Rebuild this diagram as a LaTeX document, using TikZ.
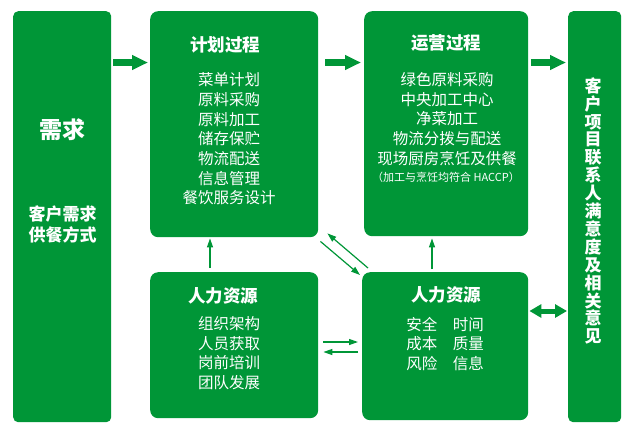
\documentclass[tikz,border=0pt]{standalone}
\usepackage{fontspec}
\setmainfont{Noto Sans CJK SC}
\usetikzlibrary{arrows.meta}
\definecolor{gr}{RGB}{0,150,55}
\begin{document}
\begin{tikzpicture}[x=1pt,y=-1pt,
  box/.style={fill=gr, draw=none, rounded corners=8pt, inner sep=0pt, anchor=north west},
  txt/.style={text=white, inner sep=0pt, align=center},
  ttl/.style={txt, font=\fontsize{17.5}{20}\selectfont\bfseries},
  itm/.style={txt, font=\fontsize{15.5}{19.7}\selectfont},
  bigarrow/.style={draw=gr, line width=7pt, -{Triangle[length=16pt,width=14pt]}},
  dblarrow/.style={draw=gr, line width=5pt, {Triangle[length=12pt,width=13pt]}-{Triangle[length=12pt,width=13pt]}},
  thinarrow/.style={draw=gr, line width=1.2pt, -{Triangle[length=9pt,width=6pt]}}
]
\useasboundingbox (0,0) rectangle (634,432);
% boxes
\node[box, rounded corners=5pt, minimum width=98pt, minimum height=411pt] (need) at (13,11) {};
\node[box, minimum width=168pt, minimum height=226pt] (plan) at (150,11) {};
\node[box, minimum width=164pt, minimum height=225pt] (ops) at (364,11) {};
\node[box, rounded corners=5pt, minimum width=53pt, minimum height=411pt] (cust) at (568,11) {};
\node[box, minimum width=168pt, minimum height=146pt] (hra) at (150,272) {};
\node[box, minimum width=166pt, minimum height=148pt] (hrb) at (362,272) {};
% texts
\node[txt, font=\fontsize{23}{26}\selectfont\bfseries] (needt) at (62,130) {需求};
\node[txt, font=\fontsize{17}{21}\selectfont\bfseries] (needi) at (62.5,224) {客户需求\\供餐方式};
\node[ttl] (plant) at (225,45) {计划过程};
\node[itm] (plani) at (229,139) {菜单计划\\原料采购\\原料加工\\储存保贮\\物流配送\\信息管理\\餐饮服务设计};
\node[ttl] (opst) at (446,43) {运营过程};
\node[itm] (opsi) at (447,119) {绿色原料采购\\中央加工中心\\净菜加工\\物流分拨与配送\\现场厨房烹饪及供餐};
\node[txt, font=\fontsize{11}{13}\selectfont] (opsn) at (446,177) {（加工与烹饪均符合 HACCP）};
\node[txt, font=\fontsize{17}{17.9}\selectfont\bfseries] (custt) at (593,211) {客\\户\\项\\目\\联\\系\\人\\满\\意\\度\\及\\相\\关\\意\\见};
\node[ttl] (hrat) at (223,296) {人力资源};
\node[itm] (hrai) at (229,353) {组织架构\\人员获取\\岗前培训\\团队发展};
\node[ttl] (hrbt) at (446,295) {人力资源};
\node[itm] (hrbi) at (445,344) {安全\quad 时间\\成本\quad 质量\\风险\quad 信息};
% connectors
\coordinate (rowa) at (0,62.5);
\coordinate (rowb) at (0,311);
\coordinate (rowc) at (0,342);
\coordinate (rowd) at (0,352);
\coordinate (cola) at (210,0);
\coordinate (colb) at (432,0);
\draw[bigarrow, shorten <=2pt, shorten >=2pt] (need.east |- rowa) -- (plan.west |- rowa);
\draw[bigarrow, shorten <=7pt, shorten >=3pt] (plan.east |- rowa) -- (ops.west |- rowa);
\draw[bigarrow, shorten <=3pt, shorten >=2pt] (ops.east |- rowa) -- (cust.west |- rowa);
\draw[dblarrow, shorten <=1pt, shorten >=1pt] (hrb.east |- rowb) -- (cust.west |- rowb);
\draw[thinarrow, shorten <=4pt, shorten >=1pt] (hra.north -| cola) -- (plan.south -| cola);
\draw[thinarrow, shorten <=3pt, shorten >=2pt] (hrb.north -| colb) -- (ops.south -| colb);
\draw[thinarrow] ([shift={(2,4)}]plan.south east) -- ([shift={(-2,3)}]hrb.north west);
\draw[thinarrow] ([shift={(6,-4)}]hrb.north west) -- ([shift={(9,-4)}]plan.south east);
\draw[thinarrow, shorten <=5pt, shorten >=4pt] (hra.east |- rowc) -- (hrb.west |- rowc);
\draw[thinarrow, shorten <=4pt, shorten >=5pt] (hrb.west |- rowd) -- (hra.east |- rowd);
\end{tikzpicture}
\end{document}
